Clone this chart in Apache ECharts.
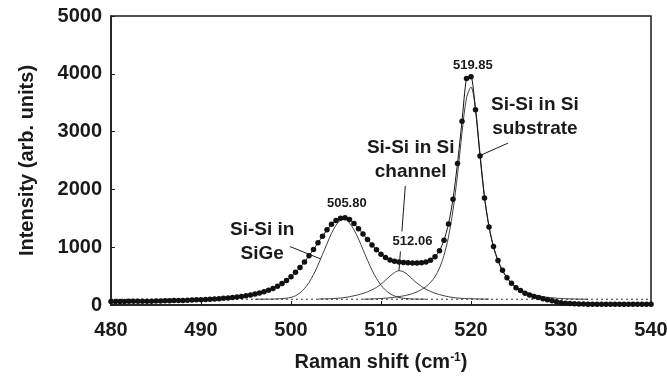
<!DOCTYPE html>
<html>
<head>
<meta charset="utf-8">
<script src="https://cdn.jsdelivr.net/npm/echarts@6/dist/echarts.min.js"></script>
<style>
  html, body { margin: 0; padding: 0; background: #fff; }
  #chart { width: 667px; height: 379px; }
</style>
</head>
<body>
<div id="chart"></div>
<script>
  // measured spectrum (dots), 0.5 cm-1 step
  const ramanShift = [
    480, 480.5, 481, 481.5, 482, 482.5, 483, 483.5, 484, 484.5, 485, 485.5, 486, 486.5, 487, 487.5,
    488, 488.5, 489, 489.5, 490, 490.5, 491, 491.5, 492, 492.5, 493, 493.5, 494, 494.5, 495, 495.5,
    496, 496.5, 497, 497.5, 498, 498.5, 499, 499.5, 500, 500.5, 501, 501.5, 502, 502.5, 503, 503.5,
    504, 504.5, 505, 505.5, 506, 506.5, 507, 507.5, 508, 508.5, 509, 509.5, 510, 510.5, 511, 511.5,
    512, 512.5, 513, 513.5, 514, 514.5, 515, 515.5, 516, 516.5, 517, 517.5, 518, 518.5, 519, 519.5,
    520, 520.5, 521, 521.5, 522, 522.5, 523, 523.5, 524, 524.5, 525, 525.5, 526, 526.5, 527, 527.5,
    528, 528.5, 529, 529.5, 530, 530.5, 531, 531.5, 532, 532.5, 533, 533.5, 534, 534.5, 535, 535.5,
    536, 536.5, 537, 537.5, 538, 538.5, 539, 539.5, 540
  ]
  const intensity = [
    60, 62, 60, 62, 63, 63, 64, 65, 66, 67, 68, 70, 72, 74, 76, 78,
    80, 83, 86, 89, 92, 96, 100, 105, 110, 116, 122, 130, 138, 148, 160, 174,
    190, 208, 230, 256, 287, 325, 370, 425, 490, 565, 650, 745, 850, 960, 1075, 1190,
    1300, 1395, 1460, 1500, 1510, 1480, 1410, 1320, 1230, 1135, 1040, 955, 880, 820, 780, 755,
    742, 735, 730, 728, 727, 730, 745, 775, 835, 940, 1120, 1400, 1830, 2450, 3180, 3920,
    3950, 3380, 2580, 1850, 1350, 1010, 770, 600, 470, 375, 300, 250, 205, 172, 148, 128,
    110, 92, 74, 56, 40, 30, 24, 20, 18, 16, 15, 15, 14, 14, 14, 13,
    13, 13, 12, 12, 12, 12, 12, 12, 12
  ]

  // fitted components
  const sigeShift = [
    496, 496.5, 497, 497.5, 498, 498.5, 499, 499.5, 500, 500.5, 501, 501.5, 502, 502.5, 503, 503.5,
    504, 504.5, 505, 505.5, 506, 506.5, 507, 507.5, 508, 508.5, 509, 509.5, 510, 510.5, 511, 511.5,
    512, 512.5, 513, 513.5, 514, 514.5, 515
  ]
  const sigeFit = [
    100, 100, 101, 102, 103, 106, 110, 118, 132, 160, 210, 285, 390, 525, 690, 875,
    1060, 1240, 1380, 1465, 1482, 1420, 1301, 1142, 959, 774, 604, 459, 342, 257, 196, 155,
    131, 116, 108, 104, 102, 101, 100
  ]
  const channelShift = [
    503, 503.5, 504, 504.5, 505, 505.5, 506, 506.5, 507, 507.5, 508, 508.5, 509, 509.5, 510, 510.5,
    511, 511.5, 512, 512.5, 513, 513.5, 514, 514.5, 515, 515.5, 516, 516.5, 517, 517.5, 518, 518.5,
    519, 519.5, 520, 520.5, 521, 521.5, 522
  ]
  const channelFit = [
    103, 105, 107, 110, 115, 121, 130, 143, 160, 178, 200, 228, 262, 305, 360, 428,
    500, 562, 594, 575, 518, 447, 378, 320, 272, 236, 205, 180, 160, 143, 130, 121,
    115, 111, 108, 106, 104, 103, 102
  ]
  const substrateShift = [
    508, 508.5, 509, 509.5, 510, 510.5, 511, 511.5, 512, 512.5, 513, 513.5, 514, 514.5, 515, 515.5,
    516, 516.5, 517, 517.5, 518, 518.5, 519, 519.5, 520, 520.5, 521, 521.5, 522, 522.5, 523, 523.5,
    524, 524.5, 525, 525.5, 526, 526.5, 527, 527.5, 528, 528.5, 529, 529.5, 530, 530.5, 531, 531.5,
    532, 532.5, 533
  ]
  const substrateFit = [
    100, 102, 105, 108, 112, 118, 125, 134, 145, 158, 175, 198, 228, 268, 320, 390,
    490, 640, 860, 1180, 1640, 2250, 2980, 3580, 3770, 3400, 2620, 1880, 1360, 1000, 760, 590,
    470, 380, 315, 265, 228, 200, 178, 160, 145, 134, 125, 118, 113, 109, 106, 104,
    102, 101, 100
  ]
  const baseline = 100

  const xTicks = [480, 490, 500, 510, 520, 530, 540]
  const yTicks = [0, 1000, 2000, 3000, 4000, 5000]

  // annotations in data coordinates
  const notes = [
    { text: '519.85', at: [520.2, 4150], size: 13 },
    { text: '505.80', at: [506.2, 1750], size: 13 },
    { text: '512.06', at: [513.5, 1100], size: 13, bg: true },
    { text: 'Si-Si in\nSiGe', at: [496.8, 1100], size: 19 },
    { text: 'Si-Si in Si\nchannel', at: [513.3, 2510], size: 19 },
    { text: 'Si-Si in Si\nsubstrate', at: [527.1, 3260], size: 19 }
  ]
  const leaders = [
    [[499.9, 1010], [503.3, 797]],
    [[512.7, 2060], [512.0, 600]],
    [[524.1, 2800], [521.2, 2600]]
  ]

  const font = '"Liberation Sans", Arial, sans-serif'
  const ink = '#1a1a1a'

  function pairs(xs, ys) {
    return xs.map((x, i) => [x, ys[i]])
  }

  const chart = echarts.init(document.getElementById('chart'), null, { renderer: 'canvas' })

  const fitStyle = { color: '#2a2a2a', width: 0.9 }

  chart.setOption({
    animation: false,
    backgroundColor: '#fff',
    grid: {
      left: 111, right: 16, top: 16, bottom: 74,
      containLabel: false,
      outerBoundsMode: 'none',
      show: true,
      borderColor: ink,
      borderWidth: 1.5
    },
    xAxis: {
      type: 'value',
      min: xTicks[0],
      max: xTicks[xTicks.length - 1],
      interval: 10,
      name: 'Raman shift (cm{sup|-1})',
      nameLocation: 'middle',
      nameGap: 47,
      nameTextStyle: {
        fontFamily: font, fontSize: 20, fontWeight: 'bold', color: ink,
        rich: {
          sup: { fontFamily: font, fontSize: 12, fontWeight: 'bold', color: ink, verticalAlign: 'top', padding: [0, 0, 9, 0] }
        }
      },
      axisLine: { lineStyle: { color: ink, width: 1.5 } },
      axisTick: { inside: true, length: 4, lineStyle: { color: ink, width: 1 } },
      axisLabel: {
        fontFamily: font, fontSize: 20, fontWeight: 'bold', color: ink, margin: 15,
        showMinLabel: true, showMaxLabel: true,
        formatter: v => String(v)
      },
      splitLine: { show: false }
    },
    yAxis: {
      type: 'value',
      min: yTicks[0],
      max: yTicks[yTicks.length - 1],
      interval: 1000,
      name: 'Intensity (arb. units)',
      nameLocation: 'middle',
      nameGap: 74,
      nameTextStyle: { fontFamily: font, fontSize: 20, fontWeight: 'bold', color: ink },
      axisLine: { lineStyle: { color: ink, width: 1.5 } },
      axisTick: { inside: true, length: 4, lineStyle: { color: ink, width: 1 } },
      axisLabel: {
        fontFamily: font, fontSize: 20, fontWeight: 'bold', color: ink, margin: 9,
        formatter: v => String(v)
      },
      splitLine: { show: false }
    },
    series: [
      {
        name: 'baseline',
        type: 'line',
        data: [[xTicks[0], baseline], [xTicks[xTicks.length - 1], baseline]],
        symbol: 'none',
        lineStyle: { color: '#333', width: 1, type: [2, 3] },
        z: 1
      },
      {
        name: 'SiGe',
        type: 'line',
        data: pairs(sigeShift, sigeFit),
        symbol: 'none',
        smooth: 0.3,
        lineStyle: fitStyle,
        z: 2
      },
      {
        name: 'Si channel',
        type: 'line',
        data: pairs(channelShift, channelFit),
        symbol: 'none',
        smooth: 0.3,
        lineStyle: fitStyle,
        z: 2
      },
      {
        name: 'Si substrate',
        type: 'line',
        data: pairs(substrateShift, substrateFit),
        symbol: 'none',
        smooth: 0.3,
        lineStyle: fitStyle,
        z: 2
      },
      {
        name: 'measured',
        type: 'line',
        data: pairs(ramanShift, intensity),
        symbol: 'circle',
        symbolSize: 5.5,
        showAllSymbol: true,
        smooth: 0.2,
        itemStyle: { color: '#111', borderWidth: 0 },
        lineStyle: { color: '#111', width: 1 },
        z: 3
      }
    ]
  })

  const graphics = []
  for (const l of leaders) {
    const a = chart.convertToPixel({ gridIndex: 0 }, l[0])
    const b = chart.convertToPixel({ gridIndex: 0 }, l[1])
    graphics.push({
      type: 'line',
      shape: { x1: a[0], y1: a[1], x2: b[0], y2: b[1] },
      style: { stroke: ink, lineWidth: 1 },
      z: 10
    })
  }
  for (const n of notes) {
    const p = chart.convertToPixel({ gridIndex: 0 }, n.at)
    graphics.push({
      type: 'text',
      x: p[0],
      y: p[1],
      style: {
        text: n.text,
        font: 'bold ' + n.size + 'px ' + font,
        fill: ink,
        align: 'center',
        verticalAlign: 'middle',
        lineHeight: n.size + 5,
        backgroundColor: n.bg ? '#fff' : null,
        padding: n.bg ? [1, 1] : 0
      },
      z: 20
    })
  }
  chart.setOption({ graphic: graphics })
</script>
</body>
</html>
